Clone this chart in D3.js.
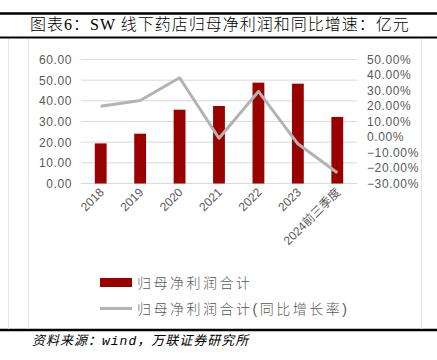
<!DOCTYPE html>
<html>
<head>
<meta charset="utf-8">
<script src="https://cdn.jsdelivr.net/npm/d3@7"></script>
<style>
  body { margin: 0; background: #fff; }
  text { font-family: "Liberation Sans", "Noto Sans CJK SC", sans-serif; }
</style>
</head>
<body>
<div id="chart"></div>
<script>
const years = ["2018", "2019", "2020", "2021", "2022", "2023", "2024前三季度"];
const profit = [19.4, 24.1, 35.7, 37.5, 48.8, 48.3, 32.2];      // 亿元
const growth = [19.9, 23.5, 38.2, -0.8, 29.4, -4.4, -23.1];     // %
const leftTicks = [0, 10, 20, 30, 40, 50, 60];
const rightTicks = [-30, -20, -10, 0, 10, 20, 30, 40, 50];

const W = 437, H = 360;
const svg = d3.select("#chart").append("svg")
  .attr("width", W).attr("height", H);

// frame lines
svg.append("line").attr("x1", 0).attr("x2", 437).attr("y1", 13.5).attr("y2", 13.5)
  .attr("stroke", "#000").attr("stroke-width", 2.5);
svg.append("line").attr("x1", 0).attr("x2", 437).attr("y1", 37.5).attr("y2", 37.5)
  .attr("stroke", "#000").attr("stroke-width", 2);
svg.append("line").attr("x1", 0).attr("x2", 437).attr("y1", 330).attr("y2", 330)
  .attr("stroke", "#000").attr("stroke-width", 2.5);
[8.5, 28.5, 421.5].forEach(x => {
  svg.append("line").attr("x1", x).attr("x2", x).attr("y1", 39).attr("y2", 329)
    .attr("stroke", "#e3e3e3").attr("stroke-width", 1);
});

svg.append("text").attr("x", 30).attr("y", 30)
  .style("font-family", "'Liberation Serif', 'Noto Sans CJK SC', serif")
  .style("font-size", "16px").style("font-weight", "300").style("letter-spacing", "1px")
  .attr("fill", "#000")
  .text("图表6：SW 线下药店归母净利润和同比增速：亿元");

const x = d3.scaleBand().domain(years).range([81, 357]).paddingInner(0.7).paddingOuter(0.35);
const yL = d3.scaleLinear().domain([0, 60]).range([183.5, 59.5]);
const yR = d3.scaleLinear().domain([-30, 50]).range([183.5, 59.5]);

// grid
svg.append("g").selectAll("line").data(leftTicks).enter().append("line")
  .attr("x1", 81).attr("x2", 357)
  .attr("y1", d => yL(d)).attr("y2", d => yL(d))
  .attr("stroke", "#d9d9d9").attr("stroke-width", 1);

// left axis
const axL = svg.append("g").attr("transform", "translate(72,0)")
  .call(d3.axisLeft(yL).tickValues(leftTicks).tickSize(0).tickPadding(0)
    .tickFormat(d => d3.format(".2f")(d)));
axL.select(".domain").remove();
axL.selectAll("text").style("font-size", "12px").attr("fill", "#595959")
  .style("letter-spacing", "0.6px");

// right axis
const axR = svg.append("g").attr("transform", "translate(367,0)")
  .call(d3.axisRight(yR).tickValues(rightTicks).tickSize(0).tickPadding(0)
    .tickFormat(d => d3.format(".2f")(d) + "%"));
axR.select(".domain").remove();
axR.selectAll("text").style("font-size", "12px").attr("fill", "#595959")
  .style("letter-spacing", "0.6px");

// bars
svg.append("g").selectAll("rect").data(profit).enter().append("rect")
  .attr("x", (d, i) => x(years[i]))
  .attr("width", x.bandwidth())
  .attr("y", d => yL(d))
  .attr("height", d => yL(0) - yL(d))
  .attr("fill", "#990000");

// line
const line = d3.line()
  .x((d, i) => x(years[i]) + x.bandwidth() / 2)
  .y(d => yR(d));
svg.append("path").datum(growth)
  .attr("d", line)
  .attr("fill", "none")
  .attr("stroke", "#b3b3b3")
  .attr("stroke-width", 3)
  .attr("stroke-linejoin", "round");

// x labels
svg.append("g").selectAll("text").data(years).enter().append("text")
  .attr("transform", d => "translate(" + (x(d) + x.bandwidth() / 2 + 4) + ",193) rotate(-45)")
  .attr("text-anchor", "end")
  .style("font-size", "12px")
  .attr("fill", "#595959")
  .text(d => d);

// legend
const leg = svg.append("g");
leg.append("rect").attr("x", 100).attr("y", 278).attr("width", 32).attr("height", 9).attr("fill", "#990000");
leg.append("text").attr("x", 137).attr("y", 288)
  .style("font-size", "14px").style("letter-spacing", "2.5px").style("font-weight", "300")
  .attr("fill", "#595959")
  .text("归母净利润合计");
leg.append("line").attr("x1", 100).attr("x2", 132).attr("y1", 308.5).attr("y2", 308.5)
  .attr("stroke", "#b3b3b3").attr("stroke-width", 3);
leg.append("text").attr("x", 137).attr("y", 314)
  .style("font-size", "14px").style("letter-spacing", "2.5px").style("font-weight", "300")
  .attr("fill", "#595959")
  .text("归母净利润合计(同比增长率)");

const src = svg.append("text").attr("x", 32).attr("y", 345)
  .style("font-size", "13px").style("font-style", "italic").style("letter-spacing", "1px")
  .attr("fill", "#000");
src.append("tspan").text("资料来源：");
src.append("tspan").style("font-family", "'Liberation Mono', monospace").text("wind");
src.append("tspan").text("，万联证券研究所");
</script>
</body>
</html>
